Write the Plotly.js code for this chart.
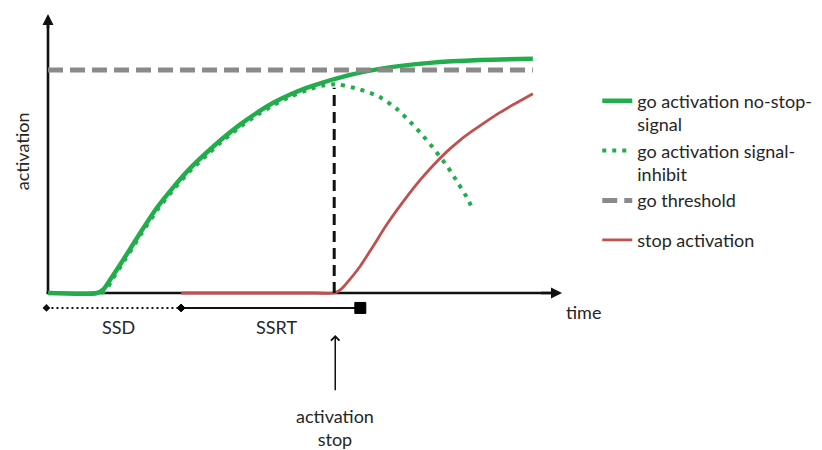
<!DOCTYPE html>
<html>
<head>
<meta charset="utf-8">
<script src="https://cdn.plot.ly/plotly-3.0.1.min.js"></script>
<style>html,body{margin:0;padding:0;background:#fff;}#chart{width:822px;height:450px;}</style>
</head>
<body>
<div id="chart"></div>
<script>
// ---- data (time in arbitrary units, activation with threshold = 100) ----
const goTime = [0, 9.6, 10.8, 12.1, 14.7, 18.0, 21.2, 24.5, 27.7, 31.0, 34.2, 37.5, 40.8, 44.0, 47.3, 50.5, 53.8, 59.0, 64.8, 74.6, 84.4, 94.7];
const goAct  = [0, 0, 1.6, 5.8, 14.9, 26.9, 38.0, 47.5, 55.8, 63.0, 69.5, 75.5, 80.8, 85.3, 89.0, 92.0, 94.5, 97.8, 100.5, 103.2, 104.5, 105.0];

const inhTime = [10.4, 11.3, 12.4, 15.0, 18.3, 21.5, 24.8, 28.0, 31.3, 34.5, 37.8, 41.1, 44.3, 47.6, 50.8, 54.0, 55.9, 57.0, 60.9, 64.7, 68.0, 70.7, 73.3, 75.8, 78.1, 80.1, 82.1, 82.9];
const inhAct  = [0, 1.2, 5.5, 14.8, 26.8, 37.7, 47.2, 55.3, 62.5, 69.0, 75.0, 80.2, 84.6, 88.3, 91.2, 93.2, 93.6, 93.4, 91.3, 88.0, 82.8, 76.8, 70.4, 63.4, 56.4, 49.2, 41.7, 37.5];

const thrTime = [0, 94.7];
const thrAct  = [100, 100];

const stopTime = [26.0, 52.0, 56.0, 57.2, 58.3, 60.9, 63.5, 66.2, 70.1, 72.7, 75.3, 77.9, 80.5, 83.1, 85.7, 88.3, 90.9, 94.7];
const stopAct  = [0, 0, 0, 1.6, 4.3, 11.8, 21.0, 30.8, 43.2, 50.7, 57.4, 63.4, 68.6, 73.0, 77.1, 81.0, 84.5, 89.4];

const ssrtTime = 55.9;          // moment the go process is cancelled
const ssrtPeak = 92;
const ssdSpan  = [-0.3, 26.0];  // stop-signal delay
const ssrtSpan = [26.0, 61.0];  // stop-signal reaction time
const spanLevel = -6.7;

const seriesNames = ['go activation no-stop-<br>signal', 'go activation signal-<br>inhibit', 'go threshold', 'stop activation'];
const labels = {ssd: 'SSD', ssrt: 'SSRT', time: 'time', yTitle: 'activation', stop: 'activation<br>stop'};

// ---- styles ----
const GREEN = '#22ad4c', RED = '#c0504d', GRAY = '#8a8a8a', INK = '#111111', TXT = '#262626';
const FONT = 'Lato, "Open Sans", sans-serif';

const traces = [
  {x: goTime, y: goAct, name: seriesNames[0], legendgroup: 'go', mode: 'lines',
   line: {color: GREEN, width: 4.5, shape: 'spline', smoothing: 0.7}},
  {x: inhTime, y: inhAct, name: seriesNames[1], legendgroup: 'go', mode: 'lines',
   line: {color: GREEN, width: 4, dash: '4px,6px', shape: 'spline', smoothing: 0.7}},
  {x: thrTime, y: thrAct, name: seriesNames[2], legendgroup: 'go', mode: 'lines',
   line: {color: GRAY, width: 5, dash: '15px,7px'}},
  {x: stopTime, y: stopAct, name: seriesNames[3], legendgroup: 'stop', mode: 'lines',
   line: {color: RED, width: 2.8, shape: 'spline', smoothing: 0.8}},
  {x: [ssrtTime, ssrtTime], y: [0, ssrtPeak], mode: 'lines', showlegend: false, hoverinfo: 'skip',
   line: {color: INK, width: 3, dash: '11px,6px'}},
  {x: ssdSpan, y: [spanLevel, spanLevel], mode: 'lines+markers', showlegend: false, hoverinfo: 'skip',
   line: {color: INK, width: 2, dash: '2px,3px'}, marker: {symbol: 'diamond', size: 6, color: INK, opacity: 1}},
  {x: ssrtSpan, y: [spanLevel, spanLevel], mode: 'lines+markers', showlegend: false, hoverinfo: 'skip',
   line: {color: INK, width: 2},
   marker: {symbol: ['diamond', 'square'], size: [6, 11], color: '#000', opacity: 1, line: {color: '#000', width: 1}}}
];

const axisArrow = (x, y, ax, ay) => ({x: x, y: y, ax: ax, ay: ay, xref: 'x', yref: 'y', axref: 'x', ayref: 'y',
  text: '', showarrow: true, arrowhead: 2, arrowsize: 0.85, arrowwidth: 2.6, arrowcolor: INK, standoff: 0});

const layout = {
  width: 822, height: 450,
  margin: {l: 0, r: 0, t: 0, b: 0},
  paper_bgcolor: '#fff', plot_bgcolor: '#fff',
  font: {family: FONT, size: 18, color: TXT},
  xaxis: {range: [-9.375, 151.17], visible: false, fixedrange: true},
  yaxis: {range: [-70.4, 131.4], visible: false, fixedrange: true},
  showlegend: true,
  legend: {x: 0.7266, y: 0.8164, xanchor: 'left', yanchor: 'top', valign: 'top',
           traceorder: 'grouped', tracegroupgap: 13, bgcolor: 'rgba(0,0,0,0)',
           font: {family: FONT, size: 18, color: TXT}},
  shapes: [
    {type: 'line', layer: 'below', xref: 'x', yref: 'y', x0: 0, x1: 0, y0: 0, y1: 121, line: {color: INK, width: 2.6}},
    {type: 'line', layer: 'below', xref: 'x', yref: 'y', x0: -0.3, x1: 98.5, y0: 0, y1: 0, line: {color: INK, width: 2.6}}
  ],
  annotations: [
    axisArrow(0, 125.1, 0, 118),
    axisArrow(100.4, 0, 96, 0),
    {x: 56.1, y: -18.8, ax: 56.1, ay: -44.3, xref: 'x', yref: 'y', axref: 'x', ayref: 'y', text: '',
     showarrow: true, arrowhead: 4, arrowsize: 1.1, arrowwidth: 1.5, arrowcolor: INK, standoff: 0},
    {x: 13.7, y: -15.1, xref: 'x', yref: 'y', text: labels.ssd, showarrow: false},
    {x: 44.7, y: -15.3, xref: 'x', yref: 'y', text: labels.ssrt, showarrow: false},
    {x: 104.5, y: -8.5, xref: 'x', yref: 'y', text: labels.time, showarrow: false},
    {x: -5.14, y: 63.4, xref: 'x', yref: 'y', text: labels.yTitle, showarrow: false, textangle: -90},
    {x: 56.1, y: -60.3, xref: 'x', yref: 'y', text: labels.stop, showarrow: false}
  ]
};

Plotly.newPlot('chart', traces, layout, {staticPlot: true, displayModeBar: false});
</script>
</body>
</html>
